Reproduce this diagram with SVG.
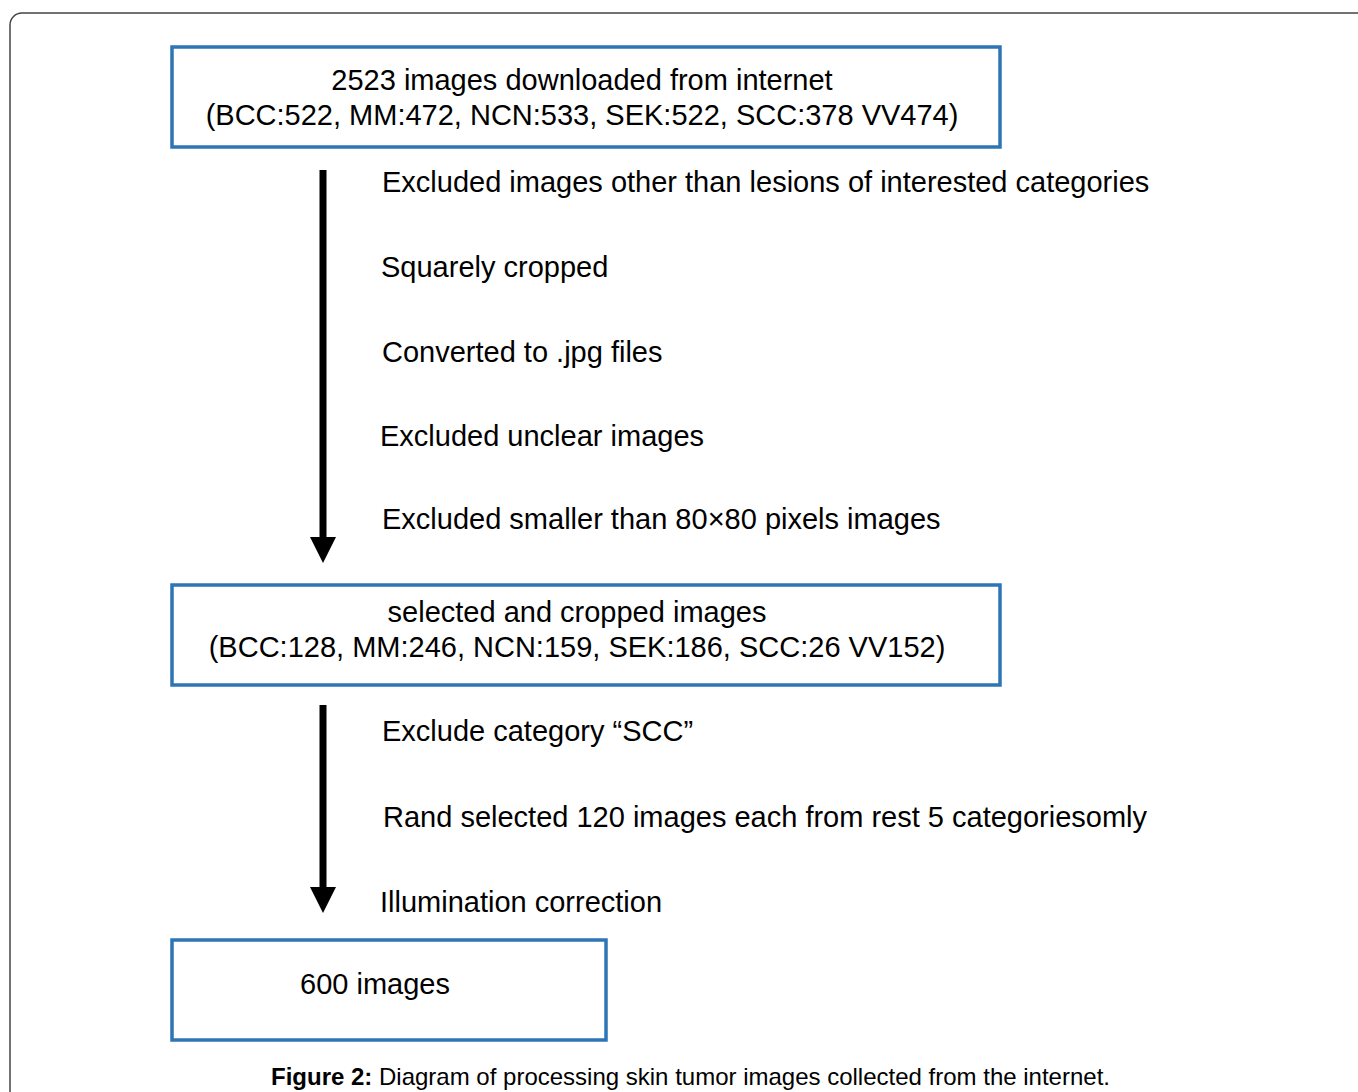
<svg xmlns="http://www.w3.org/2000/svg" width="1358" height="1092" viewBox="0 0 1358 1092">
<style>
.t{font-family:"Liberation Sans",Arial,sans-serif;font-size:29px;fill:#000}
.box{fill:#fff;stroke:#2E75B6;stroke-width:3.5}
.cap{font-family:"Liberation Sans",Arial,sans-serif;font-size:24px;fill:#000}
</style>
<rect width="1358" height="1092" fill="#fff"/>
<rect x="10" y="13" width="1370" height="1100" rx="12" fill="none" stroke="#444" stroke-width="1.5"/>
<g id="connectors">
<line x1="323" y1="170" x2="323" y2="538" stroke="#000" stroke-width="7"/>
<path d="M310,537 L336,537 L323,563 Z" fill="#000"/>
<line x1="323" y1="705" x2="323" y2="888" stroke="#000" stroke-width="7"/>
<path d="M310,887 L336,887 L323,913 Z" fill="#000"/>
</g>
<g id="node1">
<rect class="box" x="172" y="47" width="828" height="100"/>
<text class="t" x="582" y="90" text-anchor="middle">2523 images downloaded from internet</text>
<text class="t" x="582" y="125" text-anchor="middle">(BCC:522, MM:472, NCN:533, SEK:522, SCC:378 VV474)</text>
</g>
<g id="steps1">
<text class="t" x="382" y="192">Excluded images other than lesions of interested categories</text>
<text class="t" x="381" y="277">Squarely cropped</text>
<text class="t" x="382" y="362">Converted to .jpg files</text>
<text class="t" x="380" y="446">Excluded unclear images</text>
<text class="t" x="382" y="529">Excluded smaller than 80×80 pixels images</text>
</g>
<g id="node2">
<rect class="box" x="172" y="585" width="828" height="100"/>
<text class="t" x="577" y="622" text-anchor="middle">selected and cropped images</text>
<text class="t" x="577" y="657" text-anchor="middle">(BCC:128, MM:246, NCN:159, SEK:186, SCC:26 VV152)</text>
</g>
<g id="steps2">
<text class="t" x="382" y="741">Exclude category “SCC”</text>
<text class="t" x="383" y="827">Rand selected 120 images each from rest 5 categoriesomly</text>
<text class="t" x="380" y="912">Illumination correction</text>
</g>
<g id="node3">
<rect class="box" x="172" y="940" width="434" height="100"/>
<text class="t" x="300" y="994">600 images</text>
</g>
<text class="cap" x="271" y="1085"><tspan font-weight="bold">Figure 2:</tspan> Diagram of processing skin tumor images collected from the internet.</text>
</svg>
